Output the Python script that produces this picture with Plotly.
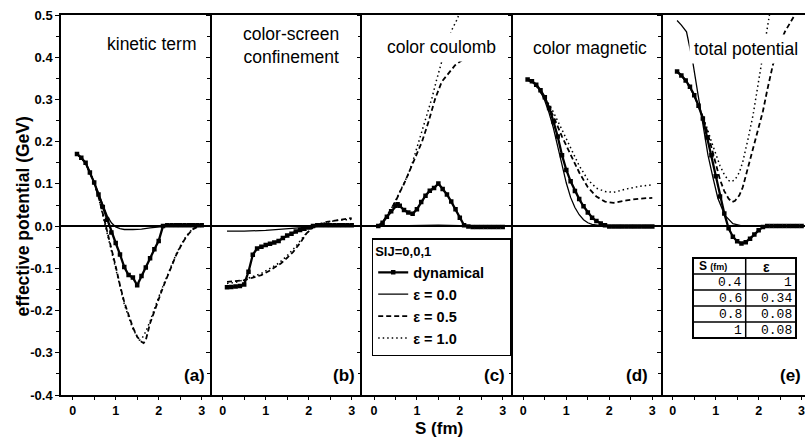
import plotly.graph_objects as go

# ---------------- data ----------------
panel_titles = ["kinetic term", "color-screen<br>confinement", "color coulomb",
                "color magnetic", "total potential"]
panel_tags = ["(a)", "(b)", "(c)", "(d)", "(e)"]
series_names = ["dynamical", "ε = 0.0", "ε = 0.5", "ε = 1.0"]
legend_title = "SlJ=0,0,1"

y_tickvals = [-0.4, -0.3, -0.2, -0.1, 0.0, 0.1, 0.2, 0.3, 0.4, 0.5]
y_ticktext = ["-0.4", "-0.3", "-0.2", "-0.1", "0.0", "0.1", "0.2", "0.3", "0.4", "0.5"]
x_tickvals = [0, 1, 2, 3]

# (a) kinetic term
a_dyn_x = [0.1, 0.2, 0.3, 0.4, 0.5, 0.6, 0.7, 0.8, 0.9, 1.0, 1.1, 1.2, 1.3, 1.4, 1.5, 1.6, 1.7, 1.8, 1.9, 2.0,
           2.1, 2.2, 2.3, 2.4, 2.5, 2.6, 2.7, 2.8, 2.9, 3.0]
a_dyn_y = [0.171, 0.162, 0.150, 0.127, 0.103, 0.075, 0.045, 0.015, -0.015, -0.040, -0.067, -0.097, -0.116,
           -0.122, -0.140, -0.118, -0.098, -0.076, -0.055, -0.035, 0.000, 0.002, 0.002, 0.002, 0.002, 0.002,
           0.002, 0.002, 0.002, 0.002]
a_e0_x = [0.1, 0.2, 0.3, 0.4, 0.5, 0.6, 0.7, 0.8, 0.9, 1.0, 1.1, 1.2, 1.4, 1.6, 1.8, 2.0, 2.2, 3.0]
a_e0_y = [0.171, 0.162, 0.150, 0.128, 0.104, 0.077, 0.050, 0.025, 0.008, -0.002, -0.006, -0.008, -0.008,
          -0.007, -0.004, -0.002, 0.000, 0.001]
a_e5_x = [0.1, 0.3, 0.5, 0.6, 0.7, 0.8, 0.9, 1.0, 1.1, 1.2, 1.3, 1.4, 1.5, 1.6, 1.65, 1.7, 1.8, 1.9, 2.0,
          2.1, 2.2, 2.3, 2.4, 2.5, 2.6, 2.7, 2.8, 2.9, 3.0]
a_e5_y = [0.171, 0.150, 0.103, 0.070, 0.030, -0.010, -0.050, -0.095, -0.140, -0.180, -0.210, -0.240, -0.262,
          -0.274, -0.277, -0.270, -0.230, -0.200, -0.170, -0.145, -0.120, -0.095, -0.070, -0.050, -0.032,
          -0.018, -0.007, -0.002, 0.000]
a_e1_x = [0.1, 0.3, 0.5, 0.6, 0.7, 0.8, 0.9, 1.0, 1.1, 1.2, 1.3, 1.4, 1.5, 1.55, 1.6, 1.7, 1.8, 1.9, 2.0,
          2.1, 2.2, 2.3, 2.4, 2.5, 2.6, 2.7, 2.8, 2.9, 3.0]
a_e1_y = [0.171, 0.150, 0.102, 0.068, 0.026, -0.015, -0.058, -0.100, -0.145, -0.185, -0.215, -0.243, -0.262,
          -0.270, -0.268, -0.250, -0.225, -0.195, -0.168, -0.142, -0.117, -0.092, -0.068, -0.048, -0.030,
          -0.016, -0.006, -0.001, 0.000]

# (b) color-screen confinement
b_dyn_x = [0.1, 0.2, 0.3, 0.4, 0.5, 0.6, 0.7, 0.8, 0.9, 1.0, 1.1, 1.2, 1.3, 1.4, 1.5, 1.6, 1.7, 1.8, 1.9, 2.0,
           2.1, 2.2, 2.3, 2.4, 2.5, 2.6, 2.7, 2.8, 2.9, 3.0]
b_dyn_y = [-0.145, -0.144, -0.143, -0.142, -0.138, -0.108, -0.068, -0.053, -0.049, -0.045, -0.042, -0.039,
           -0.035, -0.028, -0.022, -0.018, -0.013, -0.009, -0.006, -0.003, 0.000, 0.002, 0.002, 0.002, 0.002,
           0.002, 0.002, 0.002, 0.002, 0.002]
b_e0_x = [0.1, 0.5, 1.0, 1.3, 1.6, 2.0, 2.3, 3.0]
b_e0_y = [-0.012, -0.012, -0.010, -0.008, -0.005, -0.002, 0.000, 0.001]
b_e5_x = [0.1, 0.3, 0.5, 0.7, 0.9, 1.1, 1.36, 1.5, 1.64, 1.8, 1.95, 2.1, 2.25, 2.42, 2.6, 2.88, 3.0]
b_e5_y = [-0.132, -0.130, -0.128, -0.122, -0.116, -0.105, -0.088, -0.075, -0.061, -0.040, -0.017, -0.003,
          0.005, 0.010, 0.013, 0.018, 0.019]
b_e1_x = [0.1, 0.3, 0.5, 0.7, 0.9, 1.1, 1.3, 1.5, 1.7, 1.9, 2.1, 2.3, 2.5, 2.7, 3.0]
b_e1_y = [-0.136, -0.133, -0.127, -0.120, -0.112, -0.100, -0.088, -0.070, -0.048, -0.022, -0.003, 0.006,
          0.011, 0.014, 0.016]

# (c) color coulomb
c_dyn_x = [0.1, 0.2, 0.3, 0.4, 0.5, 0.55, 0.6, 0.7, 0.8, 0.9, 1.0, 1.1, 1.2, 1.3, 1.4, 1.5, 1.6, 1.7, 1.8,
           1.9, 2.0, 2.1, 2.2, 2.3, 2.4, 2.5, 2.6, 2.7, 2.8, 2.9, 3.0]
c_dyn_y = [0.000, 0.008, 0.022, 0.035, 0.048, 0.052, 0.048, 0.038, 0.032, 0.029, 0.040, 0.057, 0.072, 0.084,
           0.090, 0.101, 0.088, 0.075, 0.058, 0.040, 0.020, 0.002, -0.001, -0.002, -0.002, -0.002, -0.002,
           -0.002, -0.002, -0.002, -0.002]
c_e0_x = [0.1, 0.5, 1.0, 1.5, 2.0, 2.5, 3.0]
c_e0_y = [0.000, 0.001, 0.002, 0.002, 0.001, 0.000, 0.000]
c_e5_x = [0.1, 0.2, 0.3, 0.4, 0.5, 0.6, 0.7, 0.8, 0.9, 1.0, 1.12, 1.27, 1.43, 1.58, 1.78, 1.89, 2.05, 2.3, 2.6]
c_e5_y = [0.000, 0.010, 0.024, 0.040, 0.058, 0.080, 0.100, 0.124, 0.147, 0.172, 0.200, 0.247, 0.303, 0.342,
          0.366, 0.381, 0.393, 0.410, 0.425]
c_e1_x = [0.1, 0.2, 0.3, 0.4, 0.5, 0.6, 0.7, 0.8, 0.9, 1.0, 1.12, 1.25, 1.35, 1.45, 1.55, 1.65, 1.74, 1.83,
          1.93, 2.05]
c_e1_y = [0.000, 0.010, 0.024, 0.040, 0.060, 0.080, 0.100, 0.123, 0.152, 0.185, 0.224, 0.265, 0.303, 0.343,
          0.381, 0.415, 0.445, 0.468, 0.488, 0.520]

# (d) color magnetic
d_dyn_x = [0.1, 0.2, 0.3, 0.4, 0.5, 0.6, 0.7, 0.8, 0.9, 1.0, 1.1, 1.2, 1.3, 1.4, 1.5, 1.6, 1.7, 1.8, 1.9, 2.0,
           2.1, 2.2, 2.3, 2.4, 2.5, 2.6, 2.7, 2.8, 2.9, 3.0]
d_dyn_y = [0.347, 0.343, 0.335, 0.322, 0.305, 0.280, 0.248, 0.212, 0.168, 0.133, 0.106, 0.083, 0.064, 0.047,
           0.032, 0.020, 0.012, 0.006, 0.002, -0.001, -0.001, -0.001, -0.001, -0.001, -0.001, -0.001, -0.001,
           -0.001, -0.001, -0.001]
d_e0_x = [0.1, 0.2, 0.3, 0.4, 0.5, 0.6, 0.7, 0.8, 0.9, 1.0, 1.1, 1.2, 1.3, 1.4, 1.5, 1.6, 1.8, 2.0, 3.0]
d_e0_y = [0.347, 0.342, 0.333, 0.318, 0.297, 0.268, 0.232, 0.190, 0.145, 0.102, 0.068, 0.044, 0.027, 0.015,
          0.008, 0.004, 0.001, 0.000, 0.000]
d_e5_x = [0.1, 0.3, 0.5, 0.7, 0.9, 1.1, 1.3, 1.5, 1.7, 1.9, 2.1, 2.4, 2.7, 3.0]
d_e5_y = [0.347, 0.333, 0.302, 0.260, 0.212, 0.168, 0.127, 0.092, 0.070, 0.058, 0.055, 0.061, 0.065, 0.067]
d_e1_x = [0.1, 0.3, 0.5, 0.7, 0.9, 1.1, 1.3, 1.5, 1.7, 1.9, 2.1, 2.4, 2.7, 3.0]
d_e1_y = [0.347, 0.335, 0.305, 0.270, 0.228, 0.185, 0.143, 0.110, 0.090, 0.082, 0.080, 0.088, 0.094, 0.098]

# (e) total potential
e_dyn_x = [0.1, 0.2, 0.3, 0.4, 0.5, 0.6, 0.7, 0.8, 0.9, 1.0, 1.1, 1.2, 1.3, 1.4, 1.5, 1.6, 1.7, 1.8, 1.9, 2.0,
           2.1, 2.2, 2.3, 2.4, 2.5, 2.6, 2.7, 2.8, 2.9, 3.0]
e_dyn_y = [0.366, 0.357, 0.345, 0.330, 0.310, 0.285, 0.255, 0.210, 0.168, 0.118, 0.070, 0.030, -0.005, -0.025,
           -0.036, -0.041, -0.038, -0.030, -0.020, -0.010, -0.002, 0.000, 0.000, 0.000, 0.000, 0.000, 0.000,
           0.000, 0.000, 0.000]
e_e0_x = [0.1, 0.2, 0.32, 0.47, 0.59, 0.7, 0.82, 0.94, 1.05, 1.21, 1.4, 1.63, 3.0]
e_e0_y = [0.487, 0.476, 0.460, 0.386, 0.310, 0.239, 0.168, 0.113, 0.066, 0.026, 0.006, 0.000, 0.000]
e_e5_x = [0.1, 0.3, 0.5, 0.7, 0.8, 0.9, 1.0, 1.1, 1.2, 1.3, 1.38, 1.45, 1.55, 1.63, 1.75, 1.87, 2.0, 2.1, 2.2,
          2.33, 2.45, 2.61, 2.84, 3.0]
e_e5_y = [0.366, 0.345, 0.310, 0.258, 0.225, 0.185, 0.145, 0.110, 0.083, 0.065, 0.057, 0.060, 0.073, 0.092,
          0.138, 0.186, 0.232, 0.272, 0.322, 0.381, 0.420, 0.460, 0.500, 0.525]
e_e1_x = [0.1, 0.3, 0.5, 0.7, 0.8, 0.9, 1.0, 1.1, 1.2, 1.3, 1.36, 1.45, 1.55, 1.63, 1.75, 1.87, 1.97, 2.06,
          2.12, 2.19, 2.25, 2.3]
e_e1_y = [0.366, 0.345, 0.310, 0.260, 0.232, 0.200, 0.170, 0.143, 0.122, 0.108, 0.105, 0.110, 0.127, 0.152,
          0.205, 0.263, 0.325, 0.381, 0.420, 0.460, 0.500, 0.530]

# inset table
table_header = ["S (fm)", "ε"]
table_s = ["0.4", "0.6", "0.8", "1"]
table_eps = ["1", "0.34", "0.08", "0.08"]

panels = [
    (a_dyn_x, a_dyn_y, a_e0_x, a_e0_y, a_e5_x, a_e5_y, a_e1_x, a_e1_y),
    (b_dyn_x, b_dyn_y, b_e0_x, b_e0_y, b_e5_x, b_e5_y, b_e1_x, b_e1_y),
    (c_dyn_x, c_dyn_y, c_e0_x, c_e0_y, c_e5_x, c_e5_y, c_e1_x, c_e1_y),
    (d_dyn_x, d_dyn_y, d_e0_x, d_e0_y, d_e5_x, d_e5_y, d_e1_x, d_e1_y),
    (e_dyn_x, e_dyn_y, e_e0_x, e_e0_y, e_e5_x, e_e5_y, e_e1_x, e_e1_y),
]

# ---------------- layout geometry ----------------
W, H = 805, 442
ML, MR, MT, MB = 61, 0, 15, 47
PW, PH = W - ML - MR, H - MT - MB
bounds = [61, 211.7, 362.3, 513.3, 662.7, 805]
xranges = [[-0.272, 3.233], [-0.256, 3.247], [-0.273, 3.247], [-0.233, 3.242], [-0.235, 3.08]]
title_pos = [(151.5, 44), (290.5, 45.5), (441, 47.5), (590, 48), (745.5, 49)]
tag_right = [207, 357, 507, 650, 803]

FONT = "Liberation Sans, Arial, sans-serif"
MONO = "Liberation Mono, Courier New, monospace"


def fx(px):
    return (px - ML) / PW


def fy(py):
    return (H - MB - py) / PH


fig = go.Figure()

for i, (dx, dy, x0, y0, x5, y5, x1, y1) in enumerate(panels):
    ax = "" if i == 0 else str(i + 1)
    show = i == 0
    common = dict(xaxis="x" + ax, yaxis="y" + ax, showlegend=show, hoverinfo="skip")
    fig.add_trace(go.Scatter(x=x0, y=y0, mode="lines", name=series_names[1], legendrank=2,
                             line=dict(color="black", width=1.3), **common))
    fig.add_trace(go.Scatter(x=x5, y=y5, mode="lines", name=series_names[2], legendrank=3,
                             line=dict(color="black", width=1.8, dash="5px,3px"), **common))
    fig.add_trace(go.Scatter(x=x1, y=y1, mode="lines", name=series_names[3], legendrank=4,
                             line=dict(color="black", width=1.5, dash="1.5px,3px"), **common))
    fig.add_trace(go.Scatter(x=dx, y=dy, mode="lines+markers",
                             name=series_names[0] + "\u00a0" * 5, legendrank=1,
                             line=dict(color="black", width=2.3),
                             marker=dict(symbol="square", size=4.5, color="black"), **common))

    xa = dict(domain=[fx(bounds[i]), fx(bounds[i + 1])], range=xranges[i], anchor="y" + ax,
              showline=True, linecolor="black", linewidth=1.5, mirror=True,
              ticks="outside", ticklen=3, tickwidth=1.3, tickcolor="black",
              tickmode="array", tickvals=x_tickvals, ticklabeloverflow="allow",
              tickfont=dict(family=FONT, size=12.5, color="black", weight="bold"),
              minor=dict(tickmode="linear", tick0=0, dtick=0.5, ticks="outside", ticklen=3,
                         tickwidth=1, tickcolor="black"),
              showgrid=False, zeroline=False)
    ya = dict(domain=[0, 1], range=[-0.4, 0.5], anchor="x" + ax,
              showline=True, linecolor="black", linewidth=1.5, mirror=False,
              ticks="outside", ticklen=4, tickwidth=1.3, tickcolor="black",
              tickmode="array", tickvals=y_tickvals, ticktext=y_ticktext,
              showticklabels=show,
              tickfont=dict(family=FONT, size=13, color="black", weight="bold"),
              minor=dict(tickmode="linear", tick0=0, dtick=0.05, ticks="outside", ticklen=3,
                         tickwidth=1, tickcolor="black"),
              showgrid=False, zeroline=True, zerolinecolor="black", zerolinewidth=2.2)
    fig.layout["xaxis" + ax] = xa
    fig.layout["yaxis" + ax] = ya

annotations = []
for i in range(5):
    tx, ty = title_pos[i]
    annotations.append(dict(text=panel_titles[i], x=fx(tx), y=fy(ty), xref="paper", yref="paper",
                            xanchor="center", yanchor="middle", showarrow=False, bgcolor="white",
                            borderpad=4, font=dict(family=FONT, size=17.5, color="black")))
    annotations.append(dict(text="<b>" + panel_tags[i] + "</b>", x=fx(tag_right[i]), y=fy(375),
                            xref="paper", yref="paper", xanchor="right", yanchor="middle",
                            showarrow=False, font=dict(family=FONT, size=17, color="black")))

annotations.append(dict(text="<b>effective potential (GeV)</b>", x=fx(22.5), y=fy(217), xref="paper",
                        yref="paper", textangle=-90, xanchor="center", yanchor="middle", showarrow=False,
                        font=dict(family=FONT, size=17.5, color="black")))
annotations.append(dict(text="<b>S (fm)</b>", x=fx(439), y=fy(428), xref="paper", yref="paper",
                        xanchor="center", yanchor="middle", showarrow=False,
                        font=dict(family=FONT, size=17, color="black")))

# ---- inset table drawn with shapes + text ----
TL, TR, TT, TB = 693, 796, 258, 338
TCOL = 745.7
row_h = (TB - TT) / 5.0
shapes = [dict(type="rect", xref="paper", yref="paper", x0=fx(TL), x1=fx(TR), y0=fy(TB), y1=fy(TT),
               line=dict(color="black", width=2), fillcolor="white", layer="above")]
shapes.append(dict(type="line", xref="paper", yref="paper", x0=fx(TCOL), x1=fx(TCOL), y0=fy(TB),
                   y1=fy(TT), line=dict(color="black", width=1.5), layer="above"))
for r in range(1, 5):
    yy = TT + r * row_h
    shapes.append(dict(type="line", xref="paper", yref="paper", x0=fx(TL), x1=fx(TR), y0=fy(yy),
                       y1=fy(yy), line=dict(color="black", width=1.5), layer="above"))

annotations.append(dict(text="<b>S</b> <span style='font-size:9px'><b>(fm)</b></span>",
                        x=fx(TL + 4), y=fy(TT + row_h / 2), xref="paper", yref="paper",
                        xanchor="left", yanchor="middle", showarrow=False,
                        font=dict(family=FONT, size=12, color="black")))
annotations.append(dict(text="<b>" + table_header[1] + "</b>", x=fx(766), y=fy(TT + row_h / 2 + 1),
                        xref="paper", yref="paper", xanchor="center", yanchor="middle", showarrow=False,
                        font=dict(family=FONT, size=14, color="black")))
for r in range(4):
    yc = TT + (r + 1.5) * row_h
    annotations.append(dict(text=table_s[r], x=fx(TCOL - 2), y=fy(yc), xref="paper", yref="paper",
                            xanchor="right", yanchor="middle", showarrow=False,
                            font=dict(family=MONO, size=13, color="black")))
    annotations.append(dict(text=table_eps[r], x=fx(TR - 2), y=fy(yc), xref="paper", yref="paper",
                            xanchor="right", yanchor="middle", showarrow=False,
                            font=dict(family=MONO, size=13, color="black")))

fig.update_layout(
    width=W, height=H, margin=dict(l=ML, r=MR, t=MT, b=MB, pad=0),
    paper_bgcolor="white", plot_bgcolor="white",
    font=dict(family=FONT, color="black"),
    annotations=annotations, shapes=shapes,
    showlegend=True,
    legend=dict(x=fx(371.7), y=fy(238), xanchor="left", yanchor="top",
                bgcolor="white", bordercolor="black", borderwidth=1.5,
                title=dict(text="<b>" + legend_title + "</b>", font=dict(family=FONT, size=13)),
                font=dict(family=FONT, size=14.5, color="black", weight="bold"),
                tracegroupgap=0, itemwidth=30),
)

fig.write_html("out.html")
